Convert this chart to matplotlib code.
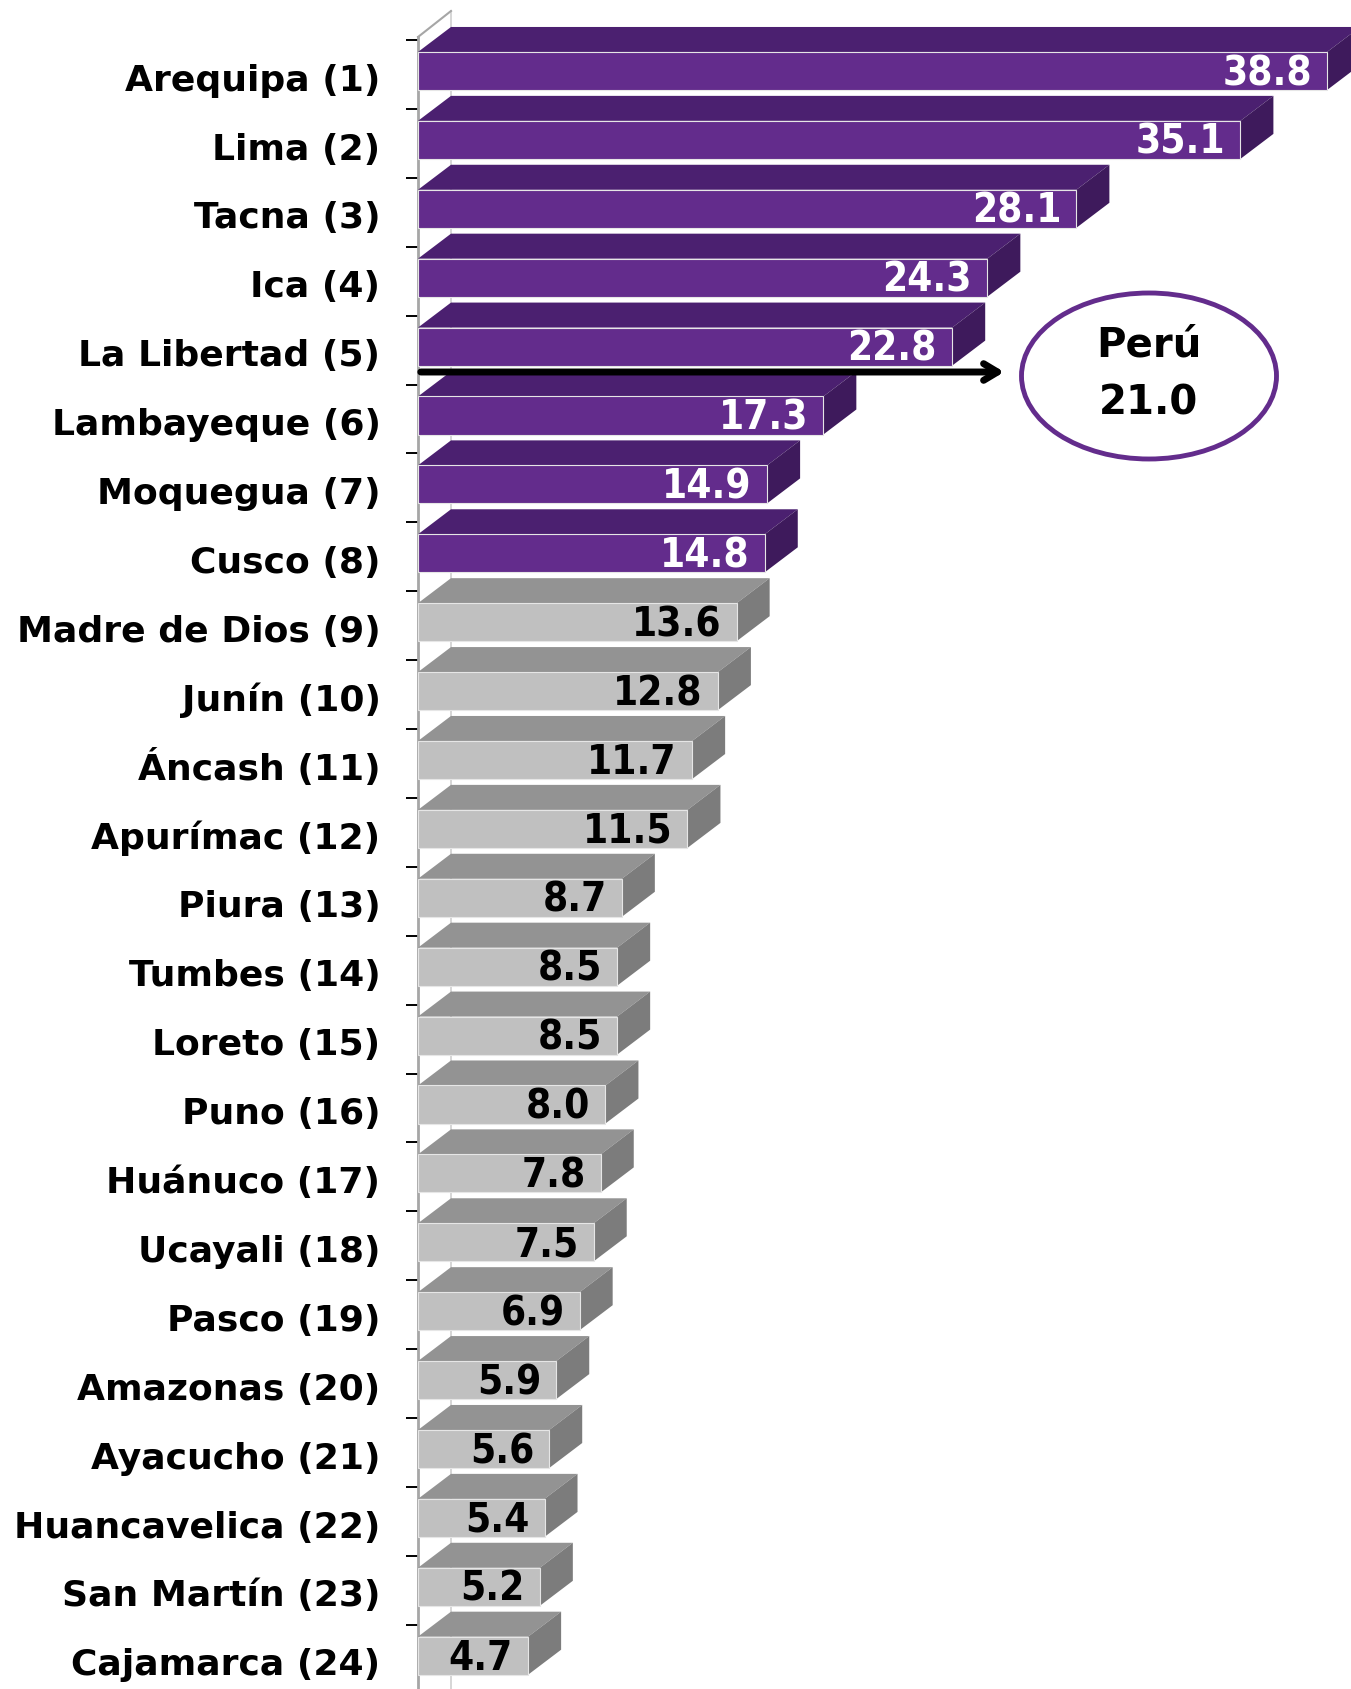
import numpy as np
import matplotlib.pyplot as plt
from matplotlib.patches import Polygon, Ellipse
from matplotlib import font_manager

regiones = ["Arequipa (1)", "Lima (2)", "Tacna (3)", "Ica (4)", "La Libertad (5)",
            "Lambayeque (6)", "Moquegua (7)", "Cusco (8)", "Madre de Dios (9)",
            "Junín (10)", "Áncash (11)", "Apurímac (12)", "Piura (13)", "Tumbes (14)",
            "Loreto (15)", "Puno (16)", "Huánuco (17)", "Ucayali (18)", "Pasco (19)",
            "Amazonas (20)", "Ayacucho (21)", "Huancavelica (22)", "San Martín (23)",
            "Cajamarca (24)"]
valores = [38.8, 35.1, 28.1, 24.3, 22.8, 17.3, 14.9, 14.8, 13.6, 12.8, 11.7, 11.5,
           8.7, 8.5, 8.5, 8.0, 7.8, 7.5, 6.9, 5.9, 5.6, 5.4, 5.2, 4.7]
peru_valor = 21.0
n_morado = 8  # primeras 8 regiones en morado

# colores (frente, arriba, lado)
morado = ("#632C8C", "#4B2070", "#3E1A5C")
gris = ("#C0C0C0", "#939393", "#7C7C7C")

# fuente estrecha para los valores, si existe
nombres = {f.name for f in font_manager.fontManager.ttflist}
narrow = None
for cand in ["Liberation Sans Narrow", "DejaVu Sans Condensed"]:
    if cand in nombres:
        narrow = cand
        break

W, H = 1351, 1690
fig = plt.figure(figsize=(W / 100, H / 100), dpi=100)
x0 = 418
ppu = 23.43     # pixeles por unidad en x
pcat = 68.9     # pixeles por categoria
c0 = 75.5       # centro de la primera categoria
ax = fig.add_axes([x0 / W, 0, (W - x0) / W, 1])
ax.set_xlim(0, (W - x0) / ppu)
ax.set_ylim((H - c0) / pcat, -c0 / pcat)

dx = 33 / ppu
dy = 25 / pcat
fa, fb = -0.327, 0.225  # frente superior / inferior

for i, v in enumerate(valores):
    cf, ct, cs = morado if i < n_morado else gris
    top = i + fa
    bot = i + fb
    ax.add_patch(Polygon([(0, top), (v, top), (v + dx, top - dy), (dx, top - dy)],
                         closed=True, facecolor=ct, edgecolor="none", zorder=3))
    ax.add_patch(Polygon([(v, top), (v + dx, top - dy), (v + dx, bot - dy), (v, bot)],
                         closed=True, facecolor=cs, edgecolor="none", zorder=3))
    ax.add_patch(Polygon([(0, top), (v, top), (v, bot), (0, bot)],
                         closed=True, facecolor=cf, edgecolor="#E6E6E6", linewidth=0.8, zorder=4))
    col = "white" if i < n_morado else "black"
    if narrow:
        kw = dict(family=narrow, fontsize=30)
    else:
        kw = dict(family="DejaVu Sans", fontstretch="condensed", fontsize=29)
    ax.text(v - 0.65, i + 0.138, f"{v:.1f}", ha="right", va="baseline", color=col,
            fontweight="bold", zorder=5, **kw)

# pared / eje
ytop = (38 - c0) / pcat
yback = (12 - c0) / pcat
ybot = (H - c0) / pcat
ax.plot([0, 0], [ytop, ybot], color="#A6A6A6", lw=2, zorder=2, clip_on=False)
ax.plot([0, dx], [ytop, yback], color="#A6A6A6", lw=1.5, zorder=2, clip_on=False)
ax.plot([dx, dx], [yback, ybot], color="#D0D0D0", lw=1.2, zorder=1, clip_on=False)

for s in ax.spines.values():
    s.set_visible(False)
ax.xaxis.set_visible(False)
pos = np.arange(len(regiones))
ax.set_yticks(pos + 0.22)
ax.set_yticklabels(regiones, fontsize=26, fontweight="bold")
for lab in ax.get_yticklabels():
    lab.set_va("baseline")
ax.tick_params(axis="y", which="major", length=0, pad=27)
ax.set_yticks(np.arange(len(regiones)) - 0.5, minor=True)
ax.tick_params(axis="y", which="minor", length=8.6, width=1.4, color="black")

# flecha y ovalo Peru
ya = (373 - c0) / pcat
ax.annotate("", xy=((1007 - x0) / ppu, ya), xytext=(0, ya),
            arrowprops=dict(arrowstyle="->,head_length=1.0,head_width=0.6", lw=5,
                            color="black"), zorder=6)
ex = (1149 - x0) / ppu
ey = (377 - c0) / pcat
ax.add_patch(Ellipse((ex, ey), 255 / ppu, 166 / pcat, facecolor="white",
                     edgecolor="#632C8C", linewidth=3.5, zorder=6))
ax.text(ex, ey - 0.45, "Perú", ha="center", va="center", fontsize=29,
        fontweight="bold", zorder=7)
ax.text(ex, ey + 0.38, f"{peru_valor:.1f}", ha="center", va="center", fontsize=29,
        fontweight="bold", zorder=7)

fig.savefig("out.png", dpi=100)
